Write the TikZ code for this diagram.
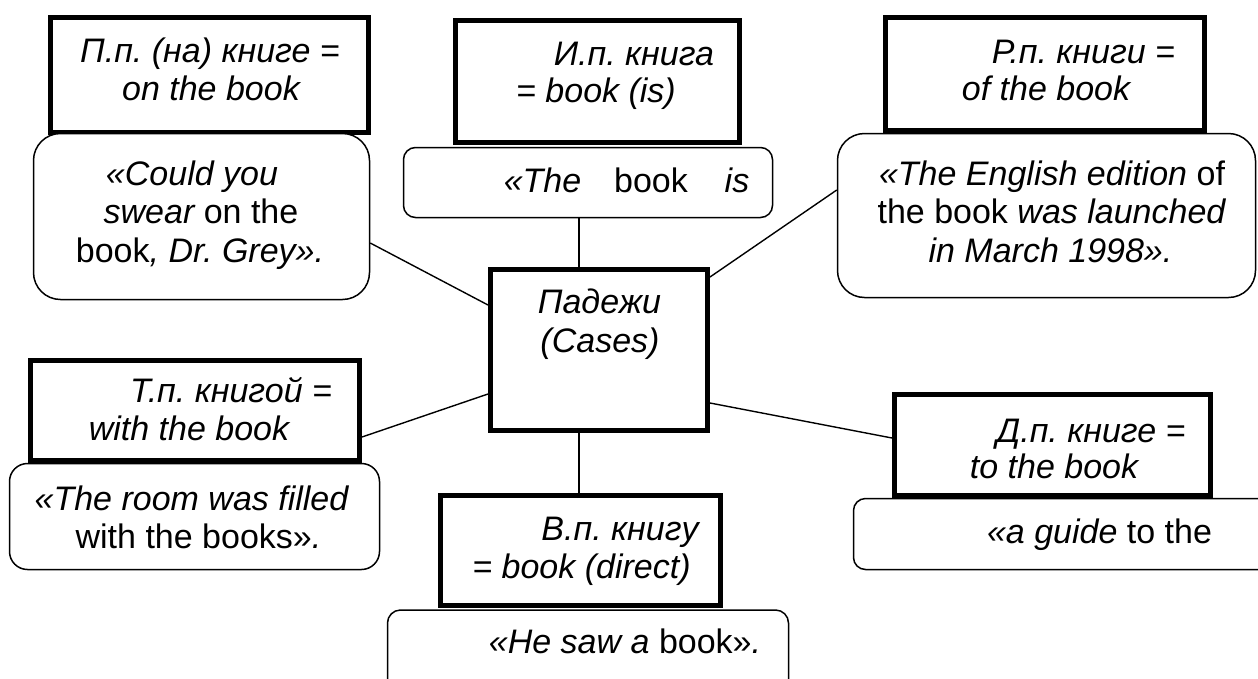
\documentclass[tikz,border=0pt]{standalone}
\usepackage{fontspec}
\setmainfont{Liberation Sans}
\usetikzlibrary{calc}
\frenchspacing
\tikzset{
  x=1pt,y=-1pt,
  thickbox/.style={draw=black,line width=5pt,fill=white,inner sep=0pt,rectangle},
  roundbox/.style={draw=black,line width=1.5pt,fill=white,inner sep=0pt,rectangle},
  conn/.style={draw=black,line width=1.4pt},
  txt/.style={anchor=base,inner sep=0pt,font=\fontsize{34}{39}\selectfont\frenchspacing}
}
\begin{document}
\begin{tikzpicture}
\useasboundingbox (0,0) rectangle (1258,678);
\clip (0,0) rectangle (1258,678);
\fill[white] (0,0) rectangle (1258,678);

% thick boxes
\node[thickbox,minimum width=318pt,minimum height=115pt] (pp) at (209.5,75) {};
\node[thickbox,minimum width=284pt,minimum height=122pt] (ip) at (597.5,81.5) {};
\node[thickbox,minimum width=319pt,minimum height=113pt] (rp) at (1045,74) {};
\node[thickbox,minimum width=329pt,minimum height=100pt] (tp) at (195,410.5) {};
\node[thickbox,minimum width=217pt,minimum height=161pt] (cen) at (599,350) {};
\node[thickbox,minimum width=280pt,minimum height=110pt] (vp) at (580.5,550.5) {};
\node[thickbox,minimum width=316pt,minimum height=101pt] (dp) at (1052.5,445) {};

% rounded boxes
\node[roundbox,rounded corners=27pt,minimum width=336pt,minimum height=166pt] (r1) at (201.5,216.5) {};
\node[roundbox,rounded corners=12pt,minimum width=369pt,minimum height=70pt] (r2) at (588,182.5) {};
\node[roundbox,rounded corners=27pt,minimum width=418pt,minimum height=164pt] (r3) at (1046.5,215.5) {};
\node[roundbox,rounded corners=18pt,minimum width=370pt,minimum height=106pt] (r4) at (194.5,516.5) {};
\node[roundbox,rounded corners=13pt,minimum width=401pt,minimum height=90pt] (r6) at (588,655) {};
\node[roundbox,rounded corners=12pt,minimum width=421pt,minimum height=71pt] (r7) at (1064,534) {};

% connectors
\draw[conn] ([yshift=-26.5pt]r1.east) -- ([yshift=45pt]cen.west);
\draw[conn] ([xshift=-9pt]r2.south) -- ([xshift=-20pt]cen.north);
\draw[conn] ([yshift=73pt]cen.east) -- ([yshift=25.5pt]r3.west);
\draw[conn] ([yshift=-26.5pt]tp.east) -- ([yshift=-44pt]cen.west);
\draw[conn] ([yshift=-53pt]cen.east) -- ([yshift=7pt]dp.west);
\draw[conn] ([xshift=-20pt]cen.south) -- ([xshift=-1.5pt]vp.north);

% texts: П.п.
\node[txt] (pp1) at (210,62) {\itshape П.п. (на) книге =};
\node[txt] (pp2) at (211,100) {\itshape on the book};
\node[txt] (r1a) at (192,185) {\itshape «Could you};
\node[txt] (r1b) at (201,223) {\itshape swear\upshape{} on the};
\node[txt] (r1c) at (200,262) {book\itshape, Dr. Grey».};

% И.п.
\node[txt] (ip1) at (634,65) {\itshape И.п. книга};
\node[txt] (ip2) at (596,102) {\itshape = book (is)};
\node[txt] (r2a) at (542.5,192) {\itshape «The};
\node[txt] (r2b) at (651,192) {book};
\node[txt] (r2c) at (737,192) {\itshape is};

% Р.п.
\node[txt] (rp1) at (1083.5,63) {\itshape Р.п. книги =};
\node[txt] (rp2) at (1046,100) {\itshape of the book};
\node[txt] (r3a) at (1052,185) {\itshape «The English edition\upshape{} of};
\node[txt] (r3b) at (1051.5,223) {the book \itshape was launched};
\node[txt] (r3c) at (1050.5,262) {\itshape in March 1998».};

% Т.п.
\node[txt] (tp1) at (231,402) {\itshape Т.п. книгой =};
\node[txt] (tp2) at (189,440) {\itshape with the book};
\node[txt] (r4a) at (191.5,510) {\itshape «The room was filled};
\node[txt] (r4b) at (198.5,548) {with the books»\itshape .};

% center
\node[txt] (c1) at (599.5,313) {\itshape Падежи};
\node[txt] (c2) at (600,352) {\itshape (Cases)};

% В.п.
\node[txt] (vp1) at (620,540) {\itshape В.п. книгу};
\node[txt] (vp2) at (581.5,578) {\itshape = book (direct)};
\node[txt] (r6a) at (625,653) {\itshape «He saw a\upshape{} book»\itshape .};

% Д.п.
\node[txt] (dp1) at (1091,442) {\itshape Д.п. книге =};
\node[txt] (dp2) at (1054,478) {\itshape to the book};
\node[txt] (r7a) at (1099.5,543) {\itshape «a guide\upshape{} to the};
\end{tikzpicture}
\end{document}
